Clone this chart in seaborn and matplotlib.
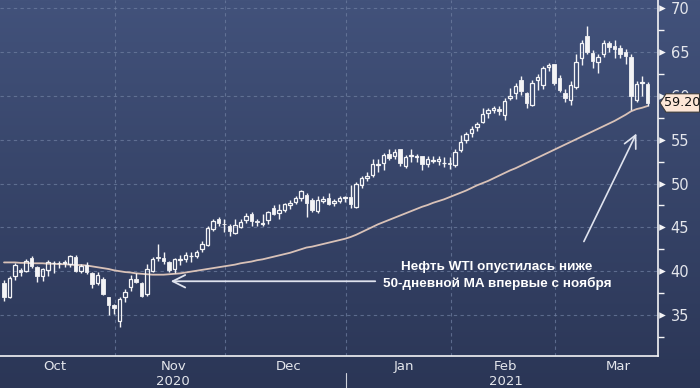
import numpy as np
import pandas as pd
import matplotlib.pyplot as plt
from matplotlib.patches import Polygon
from matplotlib.colors import LinearSegmentedColormap
import seaborn as sns

# WTI daily candles, Oct 2020 - Mar 2021
dates = (
    ["2020-10-02", "2020-10-05", "2020-10-06", "2020-10-07", "2020-10-08", "2020-10-09",
     "2020-10-12", "2020-10-13", "2020-10-14", "2020-10-15", "2020-10-16", "2020-10-19",
     "2020-10-20", "2020-10-21", "2020-10-22", "2020-10-23", "2020-10-26", "2020-10-27",
     "2020-10-28", "2020-10-29", "2020-10-30"]
    + ["2020-11-02", "2020-11-03", "2020-11-04", "2020-11-05", "2020-11-06", "2020-11-09",
       "2020-11-10", "2020-11-11", "2020-11-12", "2020-11-13", "2020-11-16", "2020-11-17",
       "2020-11-18", "2020-11-19", "2020-11-20", "2020-11-23", "2020-11-24", "2020-11-25",
       "2020-11-27", "2020-11-30"]
    + ["2020-12-01", "2020-12-02", "2020-12-03", "2020-12-04", "2020-12-07", "2020-12-08",
       "2020-12-09", "2020-12-10", "2020-12-11", "2020-12-14", "2020-12-15", "2020-12-16",
       "2020-12-17", "2020-12-18", "2020-12-21", "2020-12-22", "2020-12-23", "2020-12-24",
       "2020-12-28", "2020-12-29", "2020-12-30", "2020-12-31"]
    + ["2021-01-04", "2021-01-05", "2021-01-06", "2021-01-07", "2021-01-08", "2021-01-11",
       "2021-01-12", "2021-01-13", "2021-01-14", "2021-01-15", "2021-01-19", "2021-01-20",
       "2021-01-21", "2021-01-22", "2021-01-25", "2021-01-26", "2021-01-27", "2021-01-28",
       "2021-01-29"]
    + ["2021-02-01", "2021-02-02", "2021-02-03", "2021-02-04", "2021-02-05", "2021-02-08",
       "2021-02-09", "2021-02-10", "2021-02-11", "2021-02-12", "2021-02-16", "2021-02-17",
       "2021-02-18", "2021-02-19", "2021-02-22", "2021-02-23", "2021-02-24", "2021-02-25",
       "2021-02-26"]
    + ["2021-03-01", "2021-03-02", "2021-03-03", "2021-03-04", "2021-03-05", "2021-03-08",
       "2021-03-09", "2021-03-10", "2021-03-11", "2021-03-12", "2021-03-15", "2021-03-16",
       "2021-03-17", "2021-03-18", "2021-03-19", "2021-03-22", "2021-03-23"]
)

opens = [38.70, 37.05, 39.40, 40.10, 40.05, 41.50, 40.50, 39.50, 40.15, 40.90, 40.95, 40.90,
         40.80, 41.60, 40.05, 40.70, 39.80, 38.60, 39.10, 37.00, 36.10,
         34.30, 37.10, 38.20, 39.10, 38.60, 37.40, 40.00, 41.60, 41.50, 41.10, 40.20, 41.30,
         41.40, 41.70, 41.70, 42.50, 43.00, 44.80, 45.90, 45.40,
         45.20, 44.40, 45.00, 45.80, 46.50, 45.70, 45.40, 45.80, 47.20, 46.60, 47.00, 47.60,
         47.90, 48.40, 48.70, 48.10, 46.90, 48.00, 48.40, 47.80, 48.00, 48.40,
         48.50, 47.30, 49.80, 50.60, 51.00, 52.10, 52.30, 53.40, 53.20, 53.90, 52.00, 53.20,
         53.00, 53.20, 52.20, 52.60, 52.60, 52.30, 52.40,
         52.10, 53.80, 55.00, 55.80, 56.50, 57.00, 58.00, 58.40, 58.50, 57.80, 59.80, 60.30,
         61.80, 60.30, 59.00, 61.80, 61.20, 63.30, 63.60,
         62.00, 60.30, 59.50, 61.00, 64.30, 66.80, 64.90, 63.90, 64.80, 66.00, 65.70, 65.50,
         65.00, 64.50, 59.50, 61.50, 61.40]

highs = [39.04, 39.45, 40.95, 40.35, 41.40, 41.70, 40.60, 40.35, 41.30, 41.20, 41.15, 41.30,
         41.80, 41.90, 40.80, 41.00, 39.90, 39.90, 39.30, 37.10, 36.30,
         37.00, 38.00, 39.60, 39.80, 38.80, 40.80, 41.60, 43.10, 42.20, 41.20, 41.50, 41.80,
         42.20, 42.20, 42.40, 43.50, 45.20, 46.00, 46.20, 45.90,
         45.40, 45.90, 46.00, 46.60, 46.70, 46.00, 46.50, 46.90, 47.50, 47.70, 47.80, 48.10,
         48.60, 49.30, 48.90, 48.30, 48.60, 48.60, 48.90, 48.20, 48.60, 48.60,
         49.80, 50.20, 50.90, 51.30, 52.75, 52.80, 53.50, 53.90, 54.00, 53.95, 53.30, 53.90,
         53.40, 53.20, 53.10, 53.10, 53.20, 53.00, 53.00,
         53.90, 55.50, 55.90, 56.60, 57.00, 58.60, 58.60, 58.90, 58.80, 59.80, 60.90, 61.50,
         62.30, 60.50, 61.80, 62.50, 63.40, 63.80, 63.70,
         62.40, 60.80, 61.70, 64.80, 66.40, 67.98, 65.30, 64.80, 66.40, 66.30, 66.40, 65.80,
         65.40, 64.80, 61.70, 62.30, 61.60]

lows = [36.63, 36.90, 39.00, 39.40, 39.85, 40.35, 38.80, 38.90, 39.40, 39.80, 40.40, 40.50,
        40.50, 39.90, 39.80, 39.70, 38.10, 38.40, 37.30, 35.00, 35.10,
        33.64, 36.50, 37.70, 38.60, 37.00, 37.20, 39.90, 41.20, 40.80, 39.90, 39.80, 40.70,
        41.10, 41.00, 41.50, 42.20, 42.90, 44.60, 45.20, 44.50,
        44.00, 44.20, 44.90, 45.50, 45.20, 45.20, 45.10, 45.40, 46.40, 46.00, 46.80, 47.10,
        47.70, 48.00, 46.20, 46.80, 46.60, 47.80, 47.50, 47.40, 47.80, 47.90,
        47.20, 47.20, 49.50, 50.30, 50.80, 51.30, 51.60, 52.70, 52.80, 52.00, 51.80, 52.50,
        52.50, 51.50, 51.90, 52.40, 52.10, 51.90, 51.70,
        51.90, 53.60, 54.60, 55.30, 56.00, 56.90, 57.50, 58.00, 57.80, 57.30, 59.50, 59.60,
        60.10, 58.60, 58.80, 60.70, 60.80, 62.80, 61.20,
        60.40, 59.30, 59.00, 60.80, 63.50, 64.80, 63.20, 62.60, 64.50, 65.00, 64.30, 64.30,
        63.70, 58.40, 59.30, 60.00, 58.80]

closes = [37.05, 39.22, 40.67, 39.95, 41.19, 40.60, 39.43, 40.20, 41.04, 40.96, 40.88, 41.06,
          41.70, 40.03, 40.64, 39.85, 38.56, 39.57, 37.39, 36.17, 35.79,
          36.81, 37.66, 39.15, 38.79, 37.14, 40.29, 41.36, 41.45, 41.12, 40.13, 41.34, 41.43,
          41.82, 41.74, 42.15, 43.06, 44.91, 45.71, 45.53, 45.34,
          44.55, 45.28, 45.64, 46.26, 45.76, 45.60, 45.52, 46.78, 46.57, 46.99, 47.62, 47.82,
          48.36, 49.10, 47.74, 47.02, 48.12, 48.23, 47.62, 48.00, 48.40, 48.52,
          47.62, 49.93, 50.63, 50.83, 52.24, 52.25, 53.21, 52.91, 53.57, 52.36, 52.98, 53.24,
          53.13, 52.27, 52.77, 52.61, 52.85, 52.34, 52.20,
          53.55, 54.76, 55.69, 56.23, 56.85, 57.97, 58.36, 58.68, 58.24, 59.47, 60.05, 61.14,
          60.52, 59.24, 61.49, 62.20, 63.22, 63.53, 61.50,
          60.64, 59.75, 61.28, 63.83, 66.09, 65.05, 64.01, 64.44, 66.02, 65.61, 65.39, 64.80,
          64.60, 60.00, 61.42, 61.55, 59.20]

# 50-day moving average
ma50 = [41.00, 41.00, 41.00, 40.95, 40.95, 40.90, 40.90, 40.90, 40.85, 40.85, 40.80, 40.80,
        40.75, 40.70, 40.70, 40.65, 40.55, 40.45, 40.35, 40.25, 40.10,
        40.00, 39.90, 39.85, 39.75, 39.70, 39.65, 39.60, 39.60, 39.60, 39.65, 39.70, 39.75,
        39.85, 39.95, 40.05, 40.15, 40.25, 40.35, 40.45, 40.55,
        40.65, 40.75, 40.90, 41.00, 41.10, 41.25, 41.35, 41.50, 41.65, 41.80, 41.95, 42.10,
        42.30, 42.50, 42.70, 42.80, 42.95, 43.10, 43.25, 43.40, 43.55, 43.70,
        43.90, 44.15, 44.45, 44.75, 45.05, 45.35, 45.60, 45.85, 46.10, 46.35, 46.60, 46.85,
        47.10, 47.35, 47.55, 47.80, 48.00, 48.20, 48.45,
        48.70, 48.95, 49.20, 49.50, 49.80, 50.05, 50.30, 50.60, 50.90, 51.20, 51.50, 51.75,
        52.05, 52.35, 52.65, 52.95, 53.25, 53.55, 53.85,
        54.15, 54.45, 54.75, 55.05, 55.35, 55.65, 55.95, 56.25, 56.55, 56.85, 57.15, 57.50,
        57.85, 58.25, 58.50, 58.65, 58.85]

month_names = ["Oct", "Nov", "Dec", "Jan", "Feb", "Mar"]
last_price = 59.20
note = "Нефть WTI опустилась ниже\n50-дневной MA впервые с ноября"

df = pd.DataFrame({"date": pd.to_datetime(dates), "open": opens, "high": highs,
                   "low": lows, "close": closes, "ma": ma50})
df["i"] = np.arange(len(df))
df["top"] = df[["open", "close"]].max(axis=1)
df["bot"] = df[["open", "close"]].min(axis=1)
up = df[df.close >= df.open]
down = df[df.close < df.open]

sns.set_style("dark")
plt.rcParams["font.family"] = ["DejaVu Sans"]

fig = plt.figure(figsize=(7, 3.88), dpi=100)

# background gradient
bg = fig.add_axes([0, 0, 1, 1], zorder=-5)
grad = np.linspace(0, 1, 256).reshape(-1, 1)
cmap = LinearSegmentedColormap.from_list("bb", ["#42527b", "#2b3656"])
bg.imshow(grad, aspect="auto", cmap=cmap, extent=[0, 1, 0, 1])
bg.set_axis_off()

ax = fig.add_axes([0, 32 / 388, 658 / 700, 356 / 388])
ax.set_facecolor("none")

fg = "#f4f4f6"
ax.set_xlim(-0.73, 118.9)
ax.set_ylim(30.32, 70.95)

# wicks (outside of the body, so hollow bodies stay empty)
ax.vlines(df.i, df.top, df.high, color=fg, lw=1, zorder=3)
ax.vlines(df.i, df.low, df.bot, color=fg, lw=1, zorder=3)
w = 0.62
ax.bar(up.i, (up.top - up.bot).clip(lower=0.08), bottom=up.bot, width=w,
       facecolor="none", edgecolor=fg, linewidth=0.9, zorder=4)
ax.bar(down.i, (down.top - down.bot).clip(lower=0.08), bottom=down.bot, width=w,
       facecolor=fg, edgecolor=fg, linewidth=0.6, zorder=4)

sns.lineplot(data=df, x="i", y="ma", ax=ax, color="#d9c2b8", lw=1.3, zorder=2)
ax.set_xlabel("")
ax.set_ylabel("")

# month boundaries and labels
month_key = df.date.dt.to_period("M")
periods = month_key.unique()
bounds = df.groupby(month_key)["i"].max().values[:-1] + 0.25
centers = []
for k, p in enumerate(periods):
    n = len(pd.bdate_range(p.start_time, p.end_time))
    start = bounds[k - 1] if k > 0 else bounds[0] - n
    centers.append(start + n / 2)

ax.set_xticks(bounds)
ax.set_xticklabels([])
ax.set_yticks(np.arange(35, 71, 5))
ax.set_yticks(np.arange(32.5, 70, 5), minor=True)
ax.yaxis.tick_right()
ax.tick_params(axis="y", which="major", length=0, pad=9, labelsize=10.5, labelcolor="#e4e6ec")
ax.tick_params(axis="y", which="minor", length=4, width=1, color=fg, direction="out")
ax.tick_params(axis="x", which="major", length=4, width=1, color=fg, direction="out")

ax.grid(True, which="major", color="#7080a2", lw=0.8, ls=(0, (3, 3)), alpha=0.7)
for s in ["top", "left"]:
    ax.spines[s].set_visible(False)
for s in ["right", "bottom"]:
    ax.spines[s].set_visible(True)
    ax.spines[s].set_color(fg)
    ax.spines[s].set_linewidth(1.2)

# triangle markers for the major ticks on the right axis
ax.scatter(np.full(8, 1.006), np.arange(35, 71, 5), marker=">", s=22, color=fg,
           transform=ax.get_yaxis_transform(), clip_on=False, zorder=6, linewidths=0)

xt = ax.get_xaxis_transform()
for name, c in zip(month_names, centers):
    ax.text(c, -0.03, name, transform=xt, ha="center", va="center", color="#e4e6ec",
            fontsize=9.5)
for yr, c in [("2020", centers[1]), ("2021", centers[4])]:
    ax.text(c, -0.072, yr, transform=xt, ha="center", va="center", color="#e4e6ec",
            fontsize=9.5)
jan_bound = bounds[2]
ax.plot([jan_bound, jan_bound], [-0.048, -0.1], transform=xt, color="#cfd3dc", lw=0.8,
        clip_on=False)

# last price tag
yt = ax.get_yaxis_transform()
px = 1 / 658
tag = Polygon([(1 + 2 * px, last_price), (1 + 8 * px, last_price + 1.05),
               (1 + 41.5 * px, last_price + 1.05), (1 + 41.5 * px, last_price - 1.05),
               (1 + 8 * px, last_price - 1.05)], closed=True, transform=yt,
              facecolor="#fde6d6", edgecolor="#3a3a3a", lw=0.8, clip_on=False, zorder=10)
ax.add_patch(tag)
ax.text(1 + 24 * px, last_price, f"{last_price:.2f}", transform=yt, ha="center",
        va="center", fontsize=9.2, color="#111111", zorder=11)

# annotation
ax.text(89.6, 39.55, note, ha="center", va="center", color="white", fontsize=9.7,
        fontweight="bold", linespacing=1.4, family=["Liberation Sans", "DejaVu Sans"])
ax.annotate("", xy=(29.8, 38.85), xytext=(68.0, 38.85),
            arrowprops=dict(arrowstyle="->,head_length=0.9,head_width=0.45",
                            color="#dfe3ee", lw=1.3))
ax.annotate("", xy=(115.2, 56.0), xytext=(105.2, 43.1),
            arrowprops=dict(arrowstyle="->,head_length=0.9,head_width=0.45",
                            color="#dfe3ee", lw=1.2))

fig.savefig("out.png", dpi=100)
